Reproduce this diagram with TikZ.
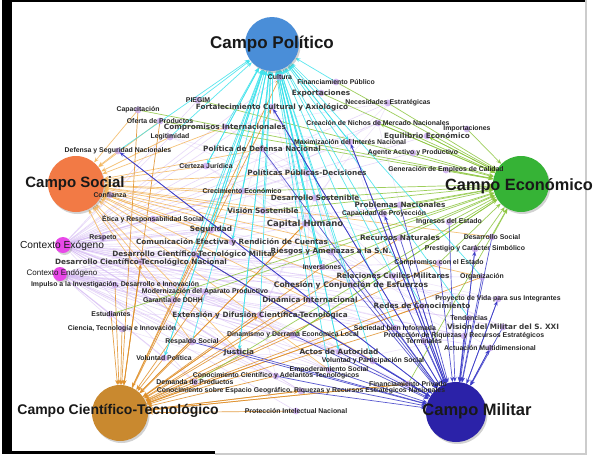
\documentclass[tikz,border=0pt]{standalone}
\usepackage{fontspec}
\setmainfont{Liberation Sans}
\newfontfamily\dv{DejaVu Sans}
\usetikzlibrary{arrows.meta,shadows}
\pgfdeclarelayer{bg}
\pgfdeclarelayer{edges}
\pgfdeclarelayer{dots}
\pgfsetlayers{bg,edges,dots,main}
\definecolor{cPol}{HTML}{4A8ED8}
\definecolor{cEco}{HTML}{36B336}
\definecolor{cSoc}{HTML}{F27A45}
\definecolor{cCie}{HTML}{C9892F}
\definecolor{cMil}{HTML}{2B22A8}
\definecolor{cCtx}{HTML}{E848E8}
\definecolor{eCy}{HTML}{3FE3EC}
\definecolor{eGr}{HTML}{8DC63F}
\definecolor{eOr}{HTML}{F4B860}
\definecolor{eBr}{HTML}{E0902A}
\definecolor{eBl}{HTML}{3C3CC8}
\definecolor{eLa}{HTML}{D4B8F4}
\definecolor{dotc}{HTML}{C7A4F0}
\tikzset{
  campo/.style={circle, minimum size=#1, inner sep=0pt,
    drop shadow={opacity=0.35,shadow xshift=1.5pt,shadow yshift=-2pt}},
  bigl/.style={font=\bfseries\fontsize{#1}{#1}\selectfont, text=black!90, inner sep=0pt},
  ctxl/.style={font=\fontsize{#1}{#1}\selectfont, text=black!90, inner sep=0pt},
  sl/.style={font=\bfseries\fontsize{6.9}{7}\selectfont, text=black!85, inner sep=0pt},
  ml/.style={font=\dv\bfseries\fontsize{7.3}{8}\selectfont, text=black!78, inner sep=0pt},
  ink/.style={line width=0.7pt, opacity=0.85, -{Stealth[length=5pt,width=4pt]}},
  haze/.style={line width=0.6pt, eLa, opacity=0.55},
  mesh/.style={line width=0.5pt, eLa, opacity=0.4},
}
\begin{document}
\begin{tikzpicture}[x=1pt,y=-1pt]
\useasboundingbox (0,0) rectangle (595,456);
\begin{pgfonlayer}{bg}
\fill[white] (0,0) rectangle (595,456);
\fill[black] (2,0) rectangle (12,454);
\fill[black] (2,0) rectangle (586,2);
\fill[black] (2,451) rectangle (215,454);
\fill[black!20] (215,453) rectangle (586,455);
\fill[black!20] (585,0) rectangle (587,455);
\end{pgfonlayer}

% campos
\node[campo=54pt, fill=cPol] (pol) at (272,44) {};
\node[campo=56pt, fill=cEco] (eco) at (521,184) {};
\node[campo=56pt, fill=cSoc] (soc) at (76,184) {};
\node[campo=56pt, fill=cCie] (cie) at (120,413) {};
\node[campo=60pt, fill=cMil] (mil) at (456,412) {};
\node[campo=16pt, fill=cCtx] (exo) at (63,245) {};
\node[campo=14pt, fill=cCtx] (endo) at (60,274) {};

% labels
\node[sl] (cul) at (280,77) {Cultura};
\node[sl] (fpu) at (336,82) {Financiamiento Público};
\node[ml] (exp) at (321,93) {Exportaciones};
\node[sl] (pie) at (198,100) {PIEGIM};
\node[sl] (nec) at (388,103) {Necesidades Estratégicas};
\node[ml] (for) at (272,107) {Fortalecimiento Cultural y Axiológico};
\node[sl] (cap) at (138,110) {Capacitación};
\node[sl] (ofe) at (160,121) {Oferta de Productos};
\node[sl] (cre) at (378,123) {Creación de Nichos de Mercado Nacionales};
\node[ml] (com) at (225,127) {Compromisos Internacionales};
\node[sl] (imp) at (467,129) {Importaciones};
\node[ml] (equ) at (427,136) {Equilibrio Económico};
\node[sl] (leg) at (170,137) {Legitimidad};
\node[sl] (max) at (350,142) {Maximización del Interés Nacional};
\node[sl] (def) at (118,151) {Defensa y Seguridad Nacionales};
\node[sl] (age) at (413,153) {Agente Activo y Productivo};
\node[ml] (pdn) at (262,149) {Política de Defensa Nacional};
\node[sl] (cer) at (206,166) {Certeza Jurídica};
\node[sl] (gen) at (446,170) {Generación de Empleos de Calidad};
\node[ml] (ppd) at (307,173) {Políticas Públicas-Decisiones};
\node[sl] (crc) at (242,191) {Crecimiento Económico};
\node[sl] (con) at (110,195) {Confianza};
\node[ml] (dso) at (315,198) {Desarrollo Sostenible};
\node[ml] (pna) at (400,205) {Problemas Nacionales};
\node[ml] (vso) at (263,211) {Visión Sostenible};
\node[sl] (cpr) at (384,214) {Capacidad de Proyección};
\node[sl] (eti) at (153,219) {Ética y Responsabilidad Social};
\node[sl] (ing) at (449,222) {Ingresos del Estado};
\node[ml, font=\dv\bfseries\fontsize{8.5}{9}\selectfont] (chu) at (305,224) {Capital Humano};
\node[ml] (seg) at (211,230) {Seguridad};
\node[ml] (rec) at (400,238) {Recursos Naturales};
\node[sl] (dsc) at (492,237) {Desarrollo Social};
\node[sl] (res) at (103,238) {Respeto};
\node[ml] (cef) at (232,242) {Comunicación Efectiva y Rendición de Cuentas};
\node[sl] (pre) at (475,249) {Prestigio y Carácter Simbólico};
\node[ml] (dcm) at (194,254) {Desarrollo Científico-Tecnológico Militar};
\node[ml] (rie) at (331,252) {Riesgos y Amenazas a la S.N.};
\node[sl] (cme) at (439,263) {Compromiso con el Estado};
\node[ml] (dcn) at (141,262) {Desarrollo Científico-Tecnológico Nacional};
\node[sl] (inv) at (322,267) {Inversiones};
\node[sl] (org) at (482,277) {Organización};
\node[ml] (rcm) at (393,276) {Relaciones Civiles-Militares};
\node[sl] (imu) at (115,285) {Impulso a la Investigación, Desarrollo e Innovación};
\node[ml, font=\dv\bfseries\fontsize{7.6}{8}\selectfont] (coh) at (351,285) {Cohesión y Conjunción de Esfuerzos};
\node[sl] (mod) at (205,292) {Modernización del Aparato Productivo};
\node[sl] (gar) at (173,300) {Garantía de DDHH};
\node[ml] (din) at (310,300) {Dinámica Internacional};
\node[sl] (pvi) at (498,299) {Proyecto de Vida para sus Integrantes};
\node[ml] (red) at (422,306) {Redes de Conocimiento};
\node[sl] (est) at (111,314) {Estudiantes};
\node[ml] (ext) at (260,315) {Extensión y Difusión Científica-Tecnológica};
\node[sl] (ten) at (469,318) {Tendencias};
\node[ml] (vmi) at (503,327) {Visión del Militar del S. XXI};
\node[sl] (sbi) at (395,328) {Sociedad bien Informada};
\node[sl] (cti) at (122,329) {Ciencia, Tecnología e Innovación};
\node[sl] (dde) at (293,335) {Dinamismo y Derrama Económica Local};
\node[sl] (prr) at (464,336) {Protección de Riquezas y Recursos Estratégicos};
\node[sl] (ter) at (424,341) {Terminales};
\node[sl] (rso) at (192,342) {Respaldo Social};
\node[sl] (amu) at (490,348) {Actuación Multidimensional};
\node[ml] (jus) at (239,352) {Justicia};
\node[ml] (aau) at (339,352) {Actos de Autoridad};
\node[sl] (vpo) at (164,358) {Voluntad Política};
\node[sl] (vps) at (373,361) {Voluntad y Participación Social};
\node[sl] (ems) at (329,370) {Empoderamiento Social};
\node[sl] (cca) at (276,376) {Conocimiento Científico y Adelantos Tecnológicos};
\node[sl] (dpr) at (195,382) {Demanda de Productos};
\node[sl] (fpr) at (408,384) {Financiamiento Privado};
\node[sl] (cee) at (301,391) {Conocimiento sobre Espacio Geográfico, Riquezas y Recursos Estratégicos Nacionales};
\node[sl] (pin) at (296,411) {Protección Intelectual Nacional};

% big labels
\node[bigl=17] (polt) at (272,44) {Campo Político};
\node[bigl=16.3] (ecot) at (519,186) {Campo Económico};
\node[bigl=15] (soct) at (75,184) {Campo Social};
\node[bigl=14] (ciet) at (118,411) {Campo Científico-Tecnológico};
\node[bigl=16.5] (milt) at (477,411) {Campo Militar};
\node[ctxl=10.2] (exot) at (62,246) {Contexto Exógeno};
\node[ctxl=8] (endot) at (62,273) {Contexto Endógeno};

\begin{pgfonlayer}{dots}
\foreach \n in {cul,fpu,exp,pie,nec,for,cap,ofe,cre,com,imp,equ,leg,max,def,age,pdn,cer,gen,ppd,crc,con,dso,pna,vso,cpr,eti,ing,chu,seg,rec,dsc,res,cef,pre,dcm,rie,cme,dcn,inv,org,rcm,imu,coh,mod,gar,din,pvi,red,est,ext,ten,vmi,sbi,cti,dde,prr,ter,rso,amu,jus,aau,vpo,vps,ems,cca,dpr,fpr,cee,pin}
  \fill[dotc, opacity=0.75] (\n.center) circle[radius=3.4pt];
\end{pgfonlayer}

\begin{pgfonlayer}{edges}
% lavender mesh between labels
\foreach \a/\b in {for/ppd,for/dso,for/chu,for/cef,pdn/dso,pdn/rie,pdn/coh,ppd/chu,ppd/coh,ppd/din,dso/coh,dso/rcm,dso/ext,chu/ext,chu/coh,chu/red,chu/sbi,cef/coh,cef/din,cef/aau,seg/rie,seg/rcm,com/max,com/ppd,com/nec,leg/ppd,leg/dso,cer/chu,cer/rie,crc/cre,crc/rec,vso/rec,vso/coh,nec/max,nec/cre,max/chu,max/rcm,cre/dso,cre/pna,rie/red,rie/vmi,coh/pvi,coh/prr,din/sbi,din/prr,ext/aau,ext/vps,ext/cca,mod/dde,mod/ems,gar/jus,gar/vps,rso/ems,jus/cee,dde/fpr,cca/prr,dcm/rcm,dcm/coh,dcn/din,dcn/ext,imu/ext,imu/dde,cti/cca,est/ext,vpo/aau,rcm/vmi,rcm/pvi,red/amu,sbi/prr}
  \draw[mesh] (\a.center) -- (\b.center);
% contexto haze
\foreach \n in {for,pdn,com,leg,cer,crc,eti,res,seg,cef,vso,dcm,dcn,chu,dso,ppd,rie,inv,coh,din,ext,mod,gar,rso,jus,cca,dpr,cee,rcm,red,pvi,vmi,prr,sbi,ems,vps,aau,dde,nec,cre,max,pie,cul,age,equ,pna,cpr}
  \draw[haze] (exo) -- (\n.center);
\foreach \n in {imu,est,cti,vpo,mod,gar,dcn,ext,din,rso,jus,ems,cca,dpr,cee,pin,sbi,red,prr,amu,ten,org,cme,coh,rie,chu,seg,cef,fpr,vps,aau,dde}
  \draw[haze] (endo) -- (\n.center);
% to Campo Social
\foreach \n in {con,eti,res,seg,cef,leg,cer,def,chu,dsc,coh,vso,crc,jus,gar,ems,vps,rso,org,cap,ofe,com,pdn,ppd,dso,rie,din}
  \draw[ink,eOr] (\n.center) -- (soc);
% to Campo Cientifico
\foreach \n in {est,cti,vpo,imu,dcm,dcn,mod,ext,red,cca,dpr,cee,pin,chu,sbi,inv,fpr,cap,rec,org,cme,din,dde,rso,jus,ofe}
  \draw[ink,eBr] (\n.center) -- (cie);
\foreach \n in {cul,for,chu,dcn,ext,red,fpr,cee}
  \draw[ink,eBr,shorten >=2pt] (cie) -- (\n.center);
% to Campo Economico
\foreach \n in {cap,ofe,exp,nec,cre,imp,equ,age,gen,ing,crc,dso,rec,dsc,pre,inv,cme,dde,fpr,dpr,chu,fpu,mod,vso,pie,cpr,pna,est}
  \draw[ink,eGr] (\n.center) -- (eco);
\foreach \n in {cre,equ,dde}
  \draw[ink,eGr,shorten >=2pt] (eco) -- (\n.center);
% to Campo Politico
\foreach \n in {cul,fpu,for,pdn,ppd,dso,chu,seg,rie,inv,coh,din,aau,jus,vpo,com,max,leg,cer,cef,rcm,ten,org,vps,ems,gar,rso,def,pie,exp,vso,sbi,red,ext,dcm,crc}
  \draw[ink,eCy] (\n.center) -- (pol);
\foreach \n in {cef,ppd,inv,jus,vpo,aau,seg,cer,max}
  \draw[ink,eCy,shorten >=2pt] (pol) -- (\n.center);
% to Campo Militar
\foreach \n in {pvi,ten,vmi,amu,prr,ter,fpr,sbi,red,rcm,coh,aau,vps,rie,pdn,pre,org,cme,cpr,pna,cee,dcm,max,for,def,rso,jus,ems,cca,ing,rec,dsc,dde}
  \draw[ink,eBl] (\n.center) -- (mil);
\foreach \n in {def,for,max,cpr,pre,pvi,amu,dcm}
  \draw[ink,eBl,shorten >=2pt] (mil) -- (\n.center);
\end{pgfonlayer}
\end{tikzpicture}
\end{document}
